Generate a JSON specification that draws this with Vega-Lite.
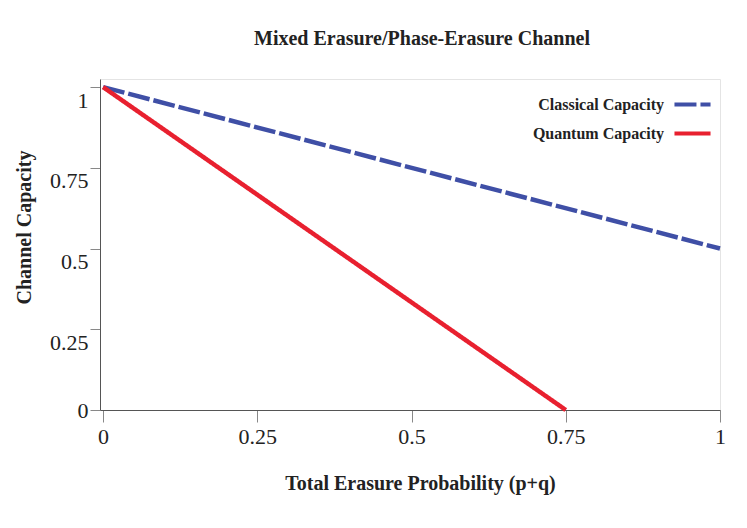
{
  "$schema": "https://vega.github.io/schema/vega-lite/v6.json",
  "autosize": "none",
  "width": 620,
  "height": 331,
  "padding": {"left": 100, "top": 79, "right": 27, "bottom": 118},
  "background": "white",
  "title": {
    "text": "Mixed Erasure/Phase-Erasure Channel",
    "font": "Liberation Serif",
    "fontSize": 20,
    "fontWeight": "bold",
    "color": "#222",
    "offset": 29,
    "dx": 12
  },
  "config": {
    "view": {"stroke": "#e4e4e4"},
    "axis": {
      "grid": false,
      "labelFont": "Liberation Serif",
      "labelFontSize": 22,
      "labelColor": "#222",
      "titleFont": "Liberation Serif",
      "titleFontSize": 20,
      "titleFontWeight": "bold",
      "titleColor": "#222",
      "domainColor": "#555",
      "tickColor": "#888",
      "labelFlush": false,
      "labelExpr": "datum.value + ''"
    }
  },
  "data": {
    "values": [
      {"series": "Classical Capacity", "p": 0, "capacity": 1},
      {"series": "Classical Capacity", "p": 1, "capacity": 0.5},
      {"series": "Quantum Capacity", "p": 0, "capacity": 1},
      {"series": "Quantum Capacity", "p": 0.75, "capacity": 0}
    ]
  },
  "mark": {"type": "line", "strokeWidth": 4.5, "strokeCap": "butt"},
  "encoding": {
    "x": {
      "field": "p",
      "type": "quantitative",
      "title": "Total Erasure Probability (p+q)",
      "scale": {"domain": [-0.005, 1], "nice": false, "zero": false},
      "axis": {
        "values": [0, 0.25, 0.5, 0.75, 1],
        "tickSize": 12,
        "labelPadding": 4,
        "titleX": 320,
        "titleY": 79,
        "titleBaseline": "alphabetic"
      }
    },
    "y": {
      "field": "capacity",
      "type": "quantitative",
      "title": "Channel Capacity",
      "scale": {"domain": [0, 1.025], "nice": false},
      "axis": {
        "values": [0, 0.25, 0.5, 0.75, 1],
        "tickSize": 10,
        "labelPadding": 2,
        "labelOffset": {"condition": {"test": "datum.value === 0", "value": 0}, "value": 13},
        "titleX": -76,
        "titleY": 148,
        "titleAlign": "center",
        "titleBaseline": "middle"
      }
    },
    "color": {
      "field": "series",
      "type": "nominal",
      "scale": {"domain": ["Classical Capacity", "Quantum Capacity"], "range": ["#3f4fa6", "#e8202f"]},
      "legend": {
        "title": null,
        "orient": "none",
        "legendX": 572,
        "legendY": 5,
        "symbolType": "stroke",
        "symbolSize": 1300,
        "symbolStrokeWidth": 4,
        "labelAlign": "right",
        "labelOffset": -49,
        "labelFont": "Liberation Serif",
        "labelFontSize": 16,
        "labelFontWeight": "bold",
        "labelColor": "#222",
        "rowPadding": -15
      }
    },
    "strokeDash": {
      "field": "series",
      "type": "nominal",
      "scale": {"domain": ["Classical Capacity", "Quantum Capacity"], "range": [[22, 4], [1, 0]]},
      "legend": null
    }
  }
}
